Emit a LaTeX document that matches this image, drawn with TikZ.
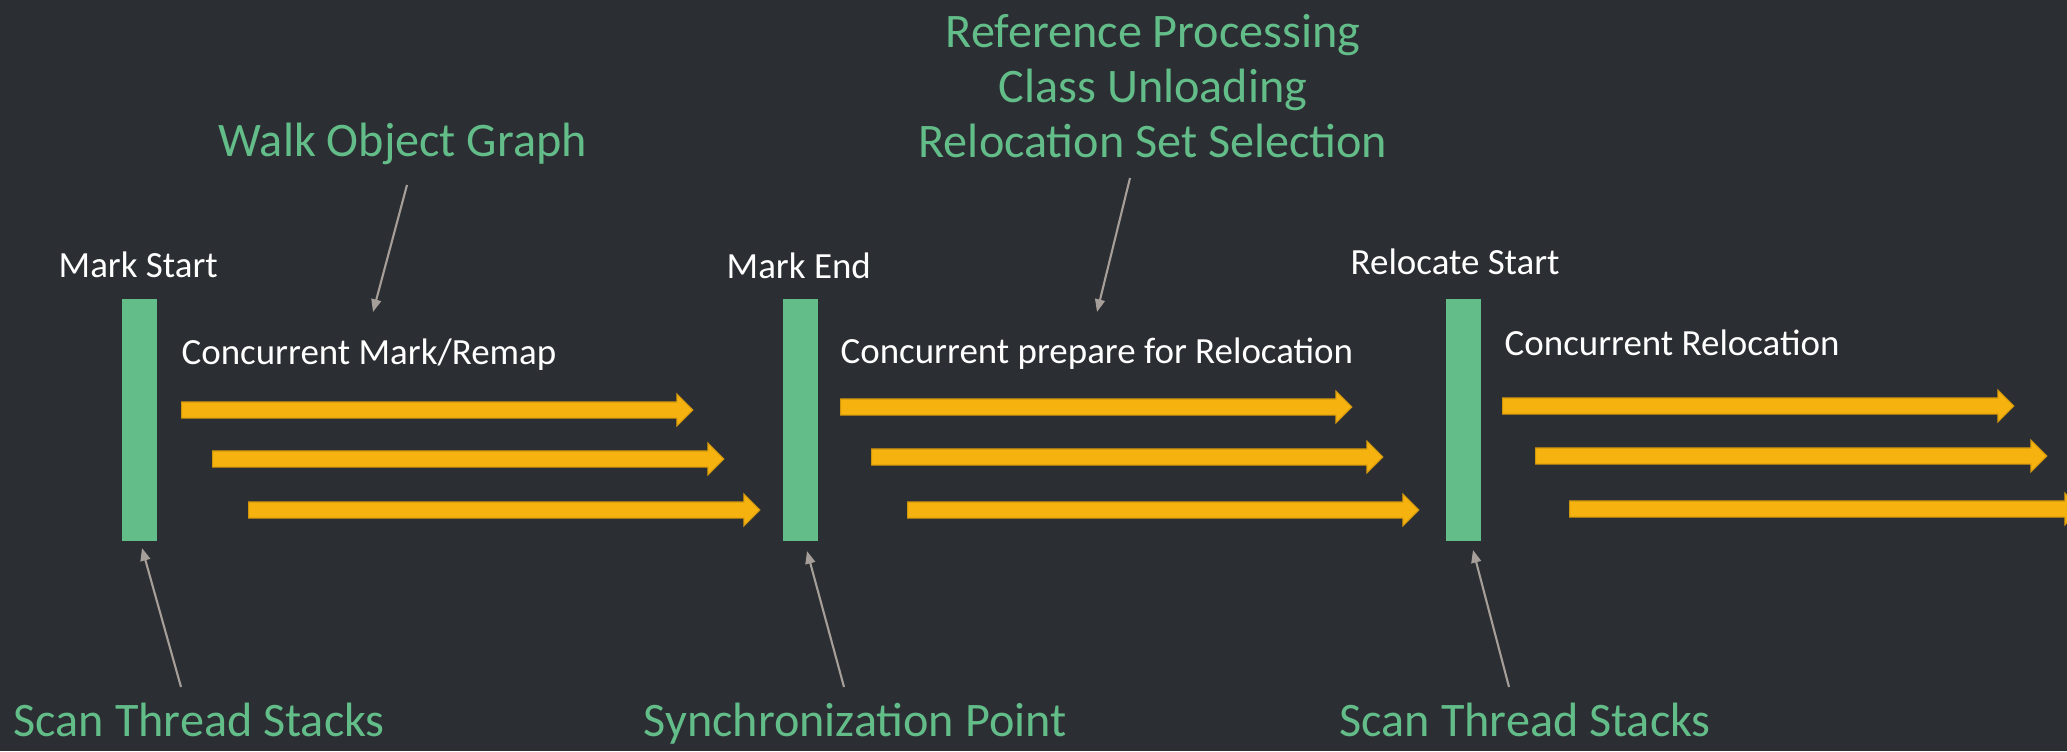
\documentclass[tikz,border=0pt]{standalone}
\usepackage{xcolor}
\usepackage{fontspec}
\setmainfont{Carlito}
\usepackage{tikz}
\usetikzlibrary{arrows.meta, shapes.arrows}

\definecolor{bgdark}{RGB}{43,46,51}
\definecolor{zgreen}{RGB}{99,189,137}
\definecolor{threadorange}{RGB}{246,178,14}
\definecolor{ptrgrey}{RGB}{166,158,152}

\begin{document}
\begin{tikzpicture}[x=0.01cm, y=-0.01cm,
    bar/.style={rectangle,fill=zgreen,inner sep=0pt,minimum width=0.35cm,minimum height=2.42cm,anchor=north west},
    thread/.style={single arrow,fill=threadorange,draw=threadorange!85!black,line width=0.3pt,
                   inner xsep=0pt,inner ysep=0.075cm,minimum height=5.11cm,
                   single arrow head extend=0.08cm,anchor=west},
    phase/.style={text=white,font=\fontsize{10.5}{12}\selectfont,inner sep=0pt,anchor=base west},
    note/.style={text=zgreen,font=\fontsize{13.7}{15.6}\selectfont,inner sep=0pt,anchor=base west},
     Ptr/.style={-{Triangle[length=3.6pt,width=2.8pt]},ptrgrey,line width=0.6pt},
                        ]
    \fill[bgdark] (0,0) rectangle (2067,751);
    \useasboundingbox (0,0) rectangle (2067,751);
    \clip (0,0) rectangle (2067,751);

    % pauses
    \node[bar] (markstart_bar)  at (121,298) {};
    \node[bar] (markend_bar)    at (782,298) {};
    \node[bar] (relocate_bar)   at (1445,298) {};
    \node[phase] (markstart_node) at (58,277)   {Mark Start};
    \node[phase] (markend_node)   at (726,278)  {Mark End};
    \node[phase] (relocate_node)  at (1350,274) {Relocate Start};

    % concurrent phases
    \node[phase] (mark_node)    at (181,364)  {Concurrent Mark/Remap};
    \node[phase] (prepare_node) at (840,363)  {Concurrent prepare for Relocation};
    \node[phase] (reloc_node)   at (1504,355) {Concurrent Relocation};

    \node[thread] (mark_t1)    at (181,410) {};
    \node[thread] (mark_t2)    at (212,459) {};
    \node[thread] (mark_t3)    at (248,510) {};
    \node[thread] (prepare_t1) at (840,407) {};
    \node[thread] (prepare_t2) at (871,457) {};
    \node[thread] (prepare_t3) at (907,510) {};
    \node[thread] (reloc_t1)   at (1502,406) {};
    \node[thread] (reloc_t2)   at (1535,456) {};
    \node[thread] (reloc_t3)   at (1569,509) {};

    % notes and pointers
    \node[note] (walk_node) at (218,156) {Walk Object Graph};
    \node[note,anchor=center,align=center] (refproc_node) at (1153,86)
        {Reference Processing\\Class Unloading\\Relocation Set Selection};
    \node[note] (scan1_node) at (13,736)   {Scan Thread Stacks};
    \node[note] (sync_node)  at (643,736)  {Synchronization Point};
    \node[note] (scan2_node) at (1339,736) {Scan Thread Stacks};

    \coordinate (walk_from)    at (407,185);
    \coordinate (walk_to)      at (373,312);
    \coordinate (refproc_from) at (1130,178);
    \coordinate (refproc_to)   at (1097,312);
    \coordinate (scan1_from)   at (181,687);
    \coordinate (scan1_to)     at (142,548);
    \coordinate (sync_from)    at (844,687);
    \coordinate (sync_to)      at (807,551);
    \coordinate (scan2_from)   at (1509,687);
    \coordinate (scan2_to)     at (1473,550);

    \draw[Ptr] (walk_from)    -- (walk_to);
    \draw[Ptr] (refproc_from) -- (refproc_to);
    \draw[Ptr] (scan1_from)   -- (scan1_to);
    \draw[Ptr] (sync_from)    -- (sync_to);
    \draw[Ptr] (scan2_from)   -- (scan2_to);

\end{tikzpicture}
\end{document}
